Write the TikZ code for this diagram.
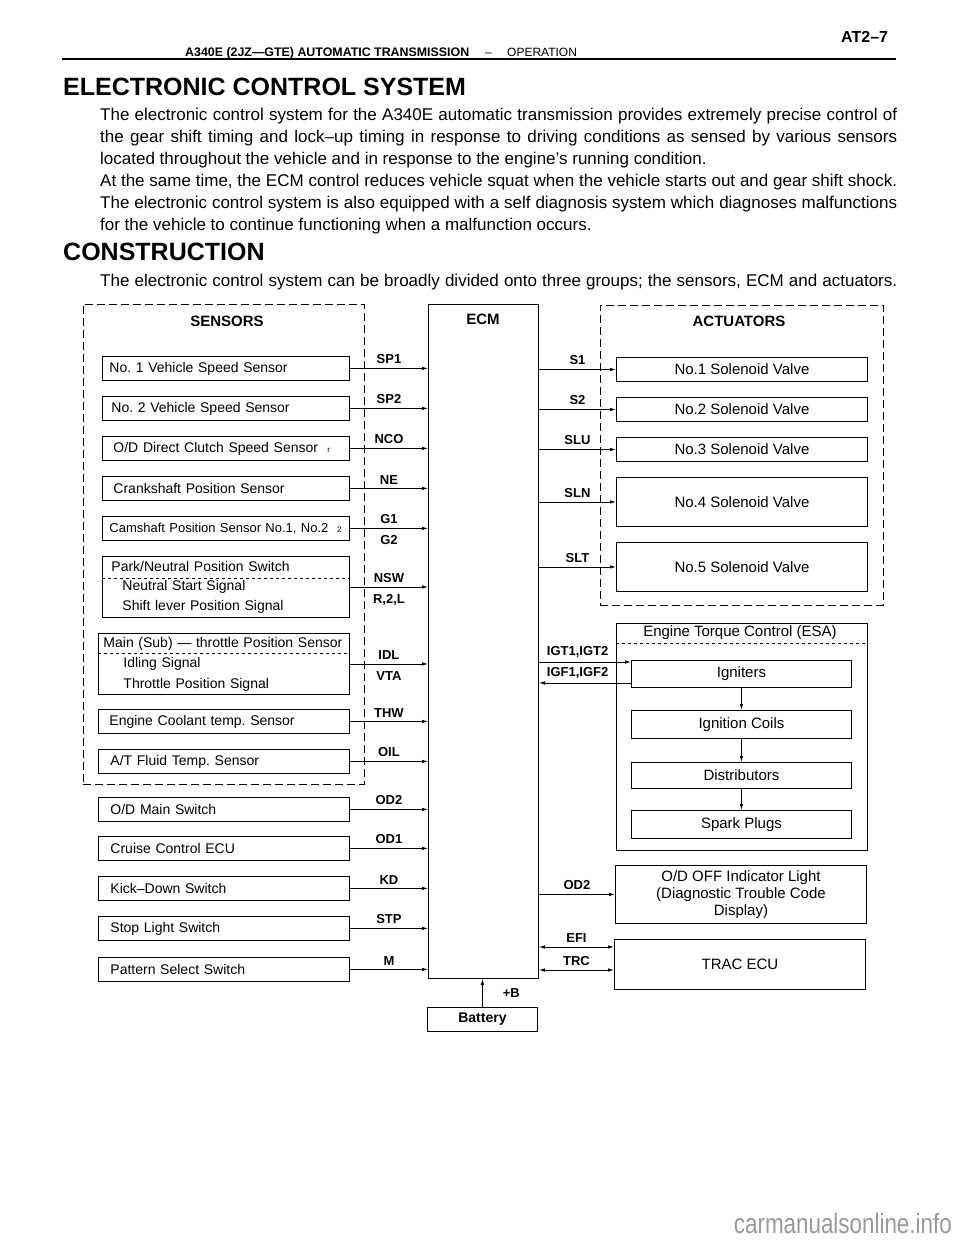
\documentclass[tikz,border=0pt]{standalone}
\usepackage{fontspec}
\setmainfont{Liberation Sans}
\usetikzlibrary{calc, positioning, arrows.meta}
\frenchspacing

\newcommand{\jline}[1]{\makebox[797pt][s]{#1}}

\begin{document}
\begin{tikzpicture}[x=1pt, y=-1pt, >={Latex[length=6pt,width=3.5pt]},
    box/.style={draw, line width=0.9pt, rectangle, anchor=north west},
    sbox/.style={box, minimum height=24pt, inner xsep=7pt, text width=233pt, align=left, font=\fontsize{14}{16}\selectfont},
    abox/.style={box, minimum width=251pt, align=center, font=\fontsize{15}{17}\selectfont},
    group/.style={draw, line width=0.9pt, dash pattern=on 8pt off 4pt, rectangle, anchor=north west},
    sep/.style={line width=0.6pt, dash pattern=on 3pt off 3pt},
    sig/.style={font=\bfseries\fontsize{13}{13}\selectfont, inner sep=2pt},
    title/.style={font=\bfseries\fontsize{15}{15}\selectfont},
    body/.style={anchor=base west, inner sep=0pt, font=\fontsize{17}{22}\selectfont},
    heading/.style={anchor=base west, inner sep=0pt, font=\bfseries\fontsize{25}{25}\selectfont},
    link/.style={->, line width=0.8pt}]
    \useasboundingbox[fill=white] (0,0) rectangle (960,1242);

    \node[anchor=base west, inner sep=0pt, font=\bfseries\fontsize{16}{16}\selectfont] (pageno) at (841,42) {AT2–7};
    \node[anchor=base west, inner sep=0pt, font=\bfseries\fontsize{12.4}{12.4}\selectfont] (runhead) at (185,56.5) {A340E (2JZ—GTE) AUTOMATIC TRANSMISSION};
    \node[anchor=base west, inner sep=0pt, font=\fontsize{12}{12}\selectfont] (rundash) at (485,56.5) {–};
    \node[anchor=base west, inner sep=0pt, font=\fontsize{12}{12}\selectfont] (runsec) at (507,56.5) {OPERATION};
    \draw[line width=1.6pt] (62,59) -- (896,59);

    \node[heading] (ecshead) at (63,95) {ELECTRONIC CONTROL SYSTEM};
    \node[body] (ecs1) at (100,120.5) {\jline{The electronic control system for the A340E automatic transmission provides extremely precise control of}};
    \node[body] (ecs2) at (100,142.5) {\jline{the gear shift timing and lock–up timing in response to driving conditions as sensed by various sensors}};
    \node[body] (ecs3) at (100,164.5) {located throughout the vehicle and in response to the engine’s running condition.};
    \node[body] (ecs4) at (100,186.5) {\jline{At the same time, the ECM control reduces vehicle squat when the vehicle starts out and gear shift shock.}};
    \node[body] (ecs5) at (100,208.5) {\jline{The electronic control system is also equipped with a self diagnosis system which diagnoses malfunctions}};
    \node[body] (ecs6) at (100,230.5) {for the vehicle to continue functioning when a malfunction occurs.};
    \node[heading] (conhead) at (63,260) {CONSTRUCTION};
    \node[body] (con1) at (100,286) {\jline{The electronic control system can be broadly divided onto three groups; the sensors, ECM and actuators.}};

    \node[group, minimum width=281pt, minimum height=480pt] (sensors) at (83,304) {};
    \node[title] (sensorstitle) at (227,321) {SENSORS};
    \node[box, minimum width=110pt, minimum height=674pt] (ecm) at (428,304) {};
    \node[title] (ecmtitle) at (483,319) {ECM};
    \node[group, minimum width=283pt, minimum height=300pt] (actuators) at (600,305) {};
    \node[title] (actuatorstitle) at (739,321) {ACTUATORS};

    \node[sbox] (s1) at (102,356) {No. 1 Vehicle Speed Sensor};
    \node[sbox] (s2) at (102,396) {\hspace*{2pt}No. 2 Vehicle Speed Sensor};
    \node[sbox] (s3) at (102,436) {\hspace*{4pt}O/D Direct Clutch Speed Sensor \ {\fontsize{8}{8}\selectfont r}};
    \node[sbox] (s4) at (102,476) {\hspace*{4pt}Crankshaft Position Sensor};
    \node[sbox, font=\fontsize{13}{16}\selectfont] (s5) at (102,516) {Camshaft Position Sensor No.1, No.2 \ {\fontsize{8}{8}\selectfont 2}};
    \node[sbox, minimum height=61pt, font=\fontsize{14}{19.5}\selectfont] (pn) at (102,556) {\hspace*{2pt}Park/Neutral Position Switch\\\hspace*{13pt}Neutral Start Signal\\\hspace*{13pt}Shift lever Position Signal};
    \draw[sep] ($(pn.north west)+(0,22)$) -- ($(pn.north east)+(0,22)$);
    \node[sbox, minimum height=61pt, inner xsep=5pt, text width=241pt, font=\fontsize{14}{20.5}\selectfont] (tps) at (98,633) {Main (Sub) — throttle Position Sensor\\\hspace*{20pt}Idling Signal\\\hspace*{20pt}Throttle Position Signal};
    \draw[sep] ($(tps.north west)+(0,20)$) -- ($(tps.north east)+(0,20)$);
    \node[sbox, text width=237pt] (ect) at (98,709) {\hspace*{4pt}Engine Coolant temp. Sensor};
    \node[sbox, text width=237pt] (atf) at (98,749) {\hspace*{5pt}A/T Fluid Temp. Sensor};
    \node[sbox, text width=237pt] (odm) at (98,797) {\hspace*{5pt}O/D Main Switch};
    \node[sbox, text width=237pt] (cc) at (98,836) {\hspace*{5pt}Cruise Control ECU};
    \node[sbox, text width=237pt] (kd) at (98,876) {\hspace*{5pt}Kick–Down Switch};
    \node[sbox, text width=237pt] (stp) at (98,916) {\hspace*{5pt}Stop Light Switch};
    \node[sbox, text width=237pt] (pat) at (98,957) {\hspace*{5pt}Pattern Select Switch};

    \draw[link] (s1.east) -- node[sig, above=2pt] {SP1} (s1.east -| ecm.west);
    \draw[link] (s2.east) -- node[sig, above=2pt] {SP2} (s2.east -| ecm.west);
    \draw[link] (s3.east) -- node[sig, above=2pt] {NCO} (s3.east -| ecm.west);
    \draw[link] (s4.east) -- node[sig, above=2pt] {NE} (s4.east -| ecm.west);
    \draw[link] (s5.east) -- node[sig, above=2pt] {G1} node[sig, below=5pt] {G2} (s5.east -| ecm.west);
    \draw[link] (pn.east) -- node[sig, above=2pt] {NSW} node[sig, below=5pt] {R,2,L} (pn.east -| ecm.west);
    \draw[link] (tps.east) -- node[sig, above=2pt] {IDL} node[sig, below=5pt] {VTA} (tps.east -| ecm.west);
    \draw[link] (ect.east) -- node[sig, above=2pt] {THW} (ect.east -| ecm.west);
    \draw[link] (atf.east) -- node[sig, above=2pt] {OIL} (atf.east -| ecm.west);
    \draw[link] (odm.east) -- node[sig, above=2pt] {OD2} (odm.east -| ecm.west);
    \draw[link] (cc.east) -- node[sig, above=2pt] {OD1} (cc.east -| ecm.west);
    \draw[link] (kd.east) -- node[sig, above=2pt] {KD} (kd.east -| ecm.west);
    \draw[link] (stp.east) -- node[sig, above=2pt] {STP} (stp.east -| ecm.west);
    \draw[link] (pat.east) -- node[sig, above=2pt] {M} (pat.east -| ecm.west);

    \node[abox, minimum height=24pt] (v1) at (616,357) {No.1 Solenoid Valve};
    \node[abox, minimum height=24pt] (v2) at (616,397) {No.2 Solenoid Valve};
    \node[abox, minimum height=24pt] (v3) at (616,437) {No.3 Solenoid Valve};
    \node[abox, minimum height=49pt] (v4) at (616,477) {No.4 Solenoid Valve};
    \node[abox, minimum height=49pt] (v5) at (616,542) {No.5 Solenoid Valve};

    \draw[link] (ecm.east |- v1.west) -- node[sig, above=2pt] {S1} (v1.west);
    \draw[link] (ecm.east |- v2.west) -- node[sig, above=2pt] {S2} (v2.west);
    \draw[link] (ecm.east |- v3.west) -- node[sig, above=2pt] {SLU} (v3.west);
    \draw[link] (ecm.east |- v4.west) -- node[sig, above=2pt] {SLN} (v4.west);
    \draw[link] (ecm.east |- v5.west) -- node[sig, above=2pt] {SLT} (v5.west);

    \node[box, minimum width=251pt, minimum height=227pt] (esa) at (616,623) {};
    \node[font=\fontsize{15}{17}\selectfont] (esatitle) at (740,633) {Engine Torque Control (ESA)};
    \draw[sep] ($(esa.north west)+(0,20)$) -- ($(esa.north east)+(0,20)$);
    \node[abox, minimum width=220pt, minimum height=27pt] (ign) at (631,660) {Igniters};
    \node[abox, minimum width=220pt, minimum height=28pt] (coil) at (631,710) {Ignition Coils};
    \node[abox, minimum width=220pt, minimum height=26pt] (dist) at (631,762) {Distributors};
    \node[abox, minimum width=220pt, minimum height=28pt] (plug) at (631,810) {Spark Plugs};
    \draw[link] (ign.south) -- (coil.north);
    \draw[link] (coil.south) -- (dist.north);
    \draw[link] (dist.south) -- (plug.north);
    \draw[link] ($(ecm.east |- ign.north west)+(0,2)$) -- node[sig, above=2pt, pos=0.42] {IGT1,IGT2} ($(ign.north west)+(0,2)$);
    \draw[link] ($(ign.south west)+(0,-5)$) -- node[sig, above=2pt, pos=0.58] {IGF1,IGF2} ($(ecm.east |- ign.south west)+(0,-5)$);

    \node[abox, minimum height=58pt] (odoff) at (615,865) {O/D OFF Indicator Light\\(Diagnostic Trouble Code\\Display)};
    \draw[link] (ecm.east |- odoff.west) -- node[sig, above=2pt] {OD2} (odoff.west);
    \node[abox, minimum height=50pt] (trac) at (614,939) {TRAC ECU};
    \draw[link, <->] ($(ecm.east |- trac.north west)+(0,8)$) -- node[sig, above=2pt] {EFI} ($(trac.north west)+(0,8)$);
    \draw[link, <->] ($(ecm.east |- trac.north west)+(0,31)$) -- node[sig, above=2pt] {TRC} ($(trac.north west)+(0,31)$);

    \node[box, minimum width=110pt, minimum height=24pt, font=\bfseries\fontsize{14}{14}\selectfont] (bat) at (427,1007) {Battery};
    \draw[link] (bat.north) -- node[sig, right=18pt] {+B} (bat.north |- ecm.south);

    \node[anchor=base east, inner sep=0pt, text=black!40, font=\fontsize{28}{28}\selectfont] (wm) at (952,1233) {\scalebox{0.8}[1]{carmanualsonline.info}};
\end{tikzpicture}
\end{document}
